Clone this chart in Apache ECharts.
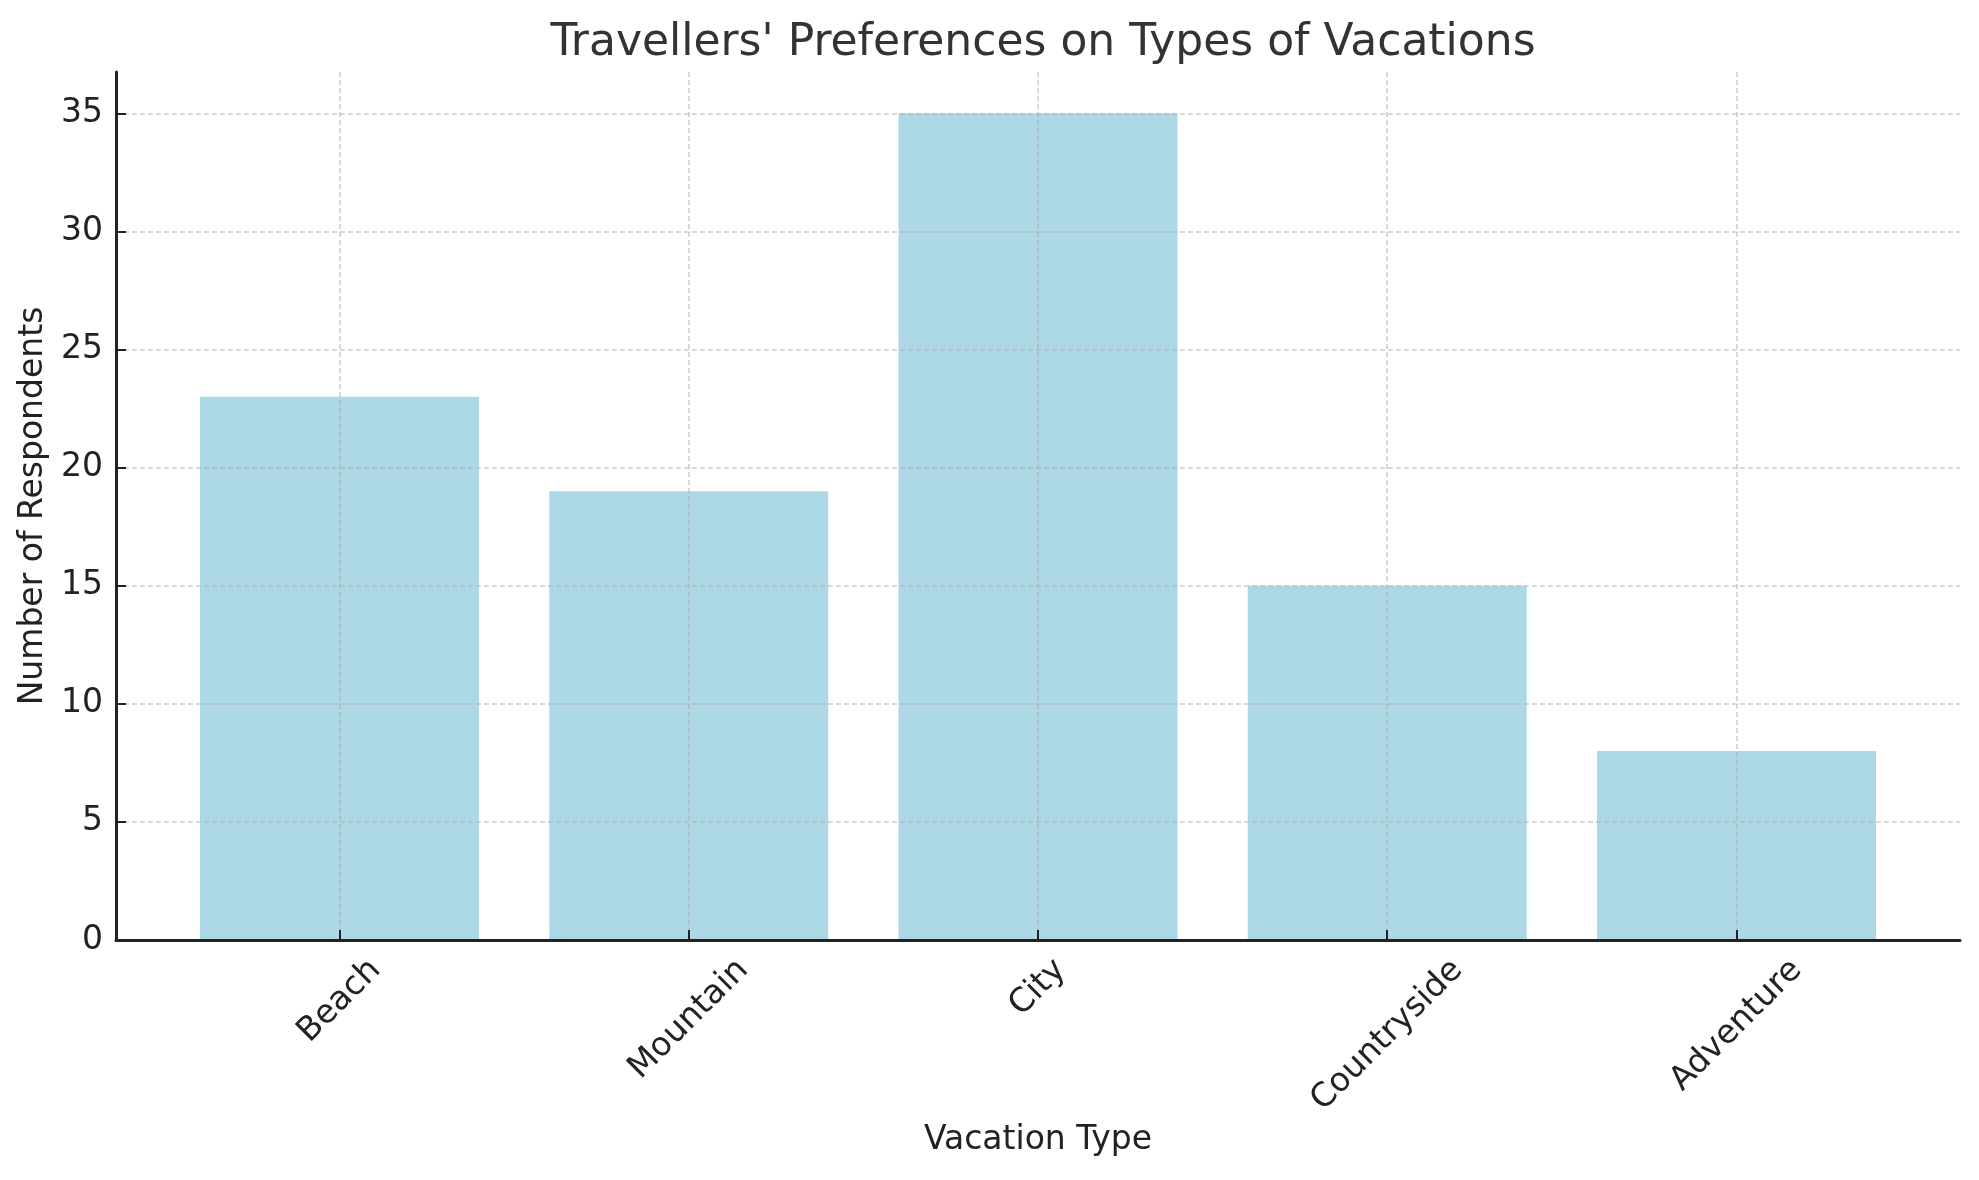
<!DOCTYPE html>
<html>
<head>
<meta charset="utf-8">
<title>Travellers' Preferences on Types of Vacations</title>
<script src="https://cdn.jsdelivr.net/npm/echarts@6/dist/echarts.min.js"></script>
<style>
html, body { margin: 0; padding: 0; background: #fff; }
#chart { width: 1979px; height: 1180px; }
</style>
</head>
<body>
<div id="chart"></div>
<script>
var vacationTypes = ['Beach', 'Mountain', 'City', 'Countryside', 'Adventure'];
var respondents = [23, 19, 35, 15, 8];
var xTicks = [0, 1, 2, 3, 4];
var yTicks = [0, 5, 10, 15, 20, 25, 30, 35];

var FONT = 'DejaVu Sans';
var INK = '#222';

// matplotlib centres rotated labels on the tick, so push each one down by half its width
var ctx = document.createElement('canvas').getContext('2d');
ctx.font = '33px "DejaVu Sans"';
var rich = {};
for (var i = 0; i < vacationTypes.length; i++) {
    var w = ctx.measureText(vacationTypes[i]).width;
    rich['c' + i] = {
        fontSize: 33, fontFamily: FONT, color: INK,
        padding: [w / 2, w / 2, 0, 0]
    };
}

var gridLine = {
    show: true,
    lineStyle: { color: 'rgba(170,170,170,0.6)', width: 1.5, type: [5, 3] }
};

var myChart = echarts.init(document.getElementById('chart'));
var option = {
    animation: false,
    backgroundColor: '#fff',
    title: {
        text: "Travellers' Preferences on Types of Vacations",
        left: 1038,
        top: 17,
        textAlign: 'center',
        textStyle: { fontFamily: FONT, fontSize: 44, fontWeight: 'normal', color: '#333', lineHeight: 44 }
    },
    grid: { left: 116, right: 19, top: 72, bottom: 240 },
    xAxis: {
        type: 'value',
        min: -0.64,
        max: 4.64,
        z: 3,
        name: 'Vacation Type',
        nameLocation: 'middle',
        nameGap: 197,
        nameTextStyle: { fontFamily: FONT, fontSize: 33, color: INK, verticalAlign: 'middle', lineHeight: 33 },
        axisLine: { show: true, onZero: false, lineStyle: { color: INK, width: 3 } },
        axisTick: { show: true, inside: true, length: 10, customValues: xTicks, lineStyle: { color: INK, width: 2 } },
        axisLabel: {
            customValues: xTicks,
            rotate: 45,
            align: 'center',
            verticalAlign: 'middle',
            margin: 25,
            formatter: function (v) { return '{c' + v + '|' + vacationTypes[v] + '}'; },
            rich: rich
        },
        splitLine: gridLine
    },
    yAxis: {
        type: 'value',
        min: 0,
        max: 36.75,
        z: 3,
        name: 'Number of Respondents',
        nameLocation: 'middle',
        nameGap: 83,
        nameTextStyle: { fontFamily: FONT, fontSize: 33, color: INK, verticalAlign: 'middle', lineHeight: 33 },
        axisLine: { show: true, onZero: false, lineStyle: { color: INK, width: 3 } },
        axisTick: { show: true, inside: true, length: 10, customValues: yTicks, lineStyle: { color: INK, width: 2 } },
        axisLabel: {
            customValues: yTicks,
            margin: 13,
            fontFamily: FONT, fontSize: 33, color: INK
        },
        splitLine: gridLine
    },
    series: [{
        type: 'bar',
        barWidth: 279,
        itemStyle: { color: '#ADD8E6' },
        data: respondents.map(function (v, i) { return [xTicks[i], v]; })
    }]
};
myChart.setOption(option);
</script>
</body>
</html>
